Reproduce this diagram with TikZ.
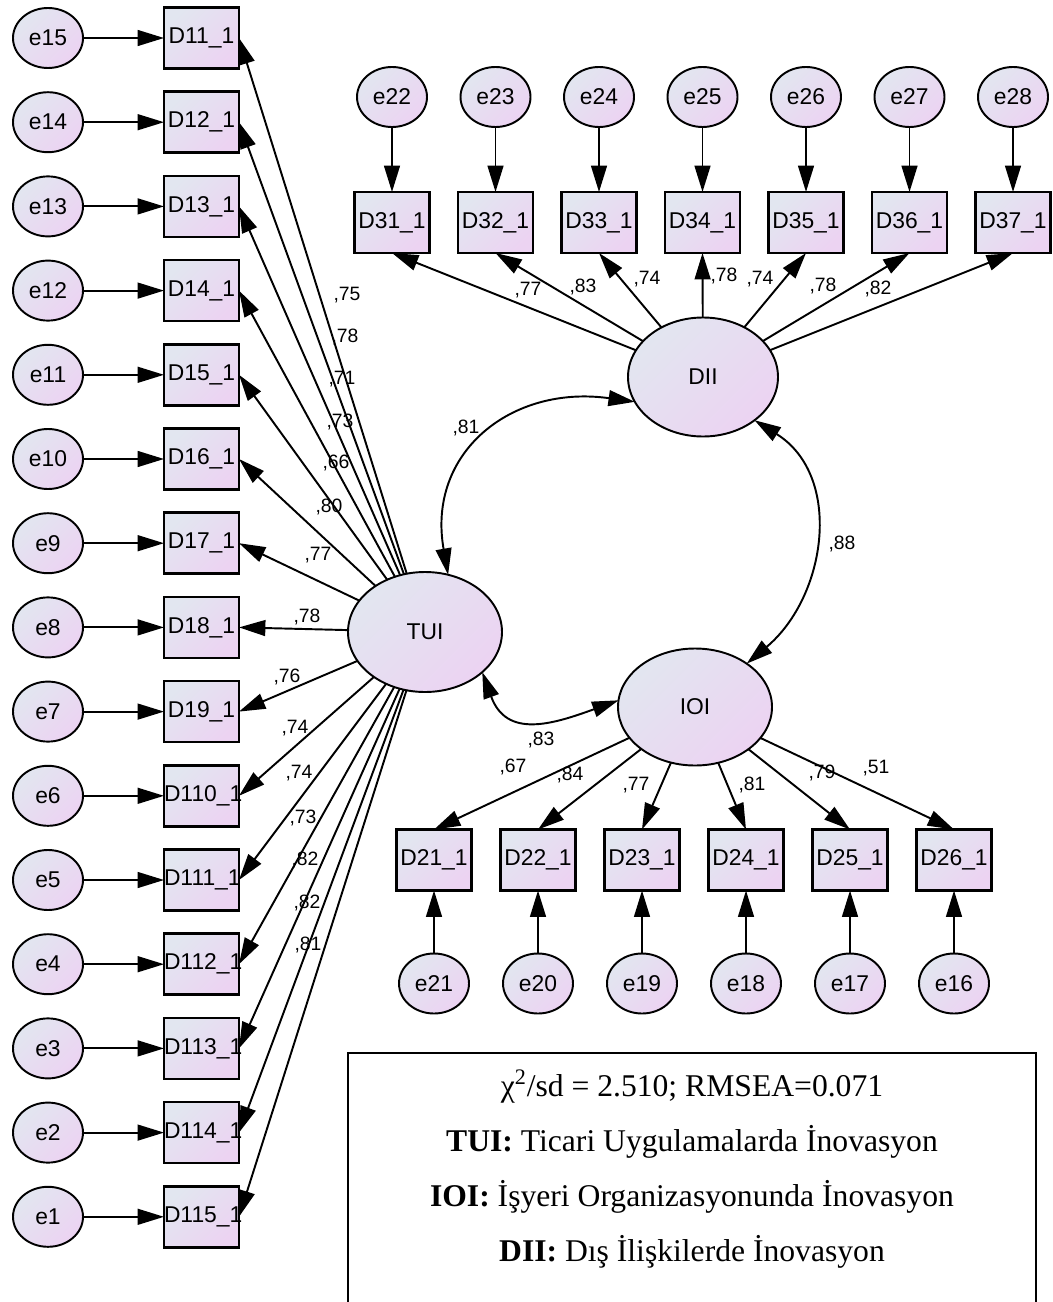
\documentclass[tikz,border=0pt]{standalone}
\usepackage{fontspec}
\setmainfont{Liberation Serif}
\newfontfamily\amosfont{Liberation Sans}
\usepackage{xcolor}
\usepackage{tikz}
\usetikzlibrary{shapes,arrows.meta,positioning}

\definecolor{fillA}{RGB}{226,230,240}
\definecolor{fillB}{RGB}{236,211,242}

\begin{document}
\begin{tikzpicture}[
    shadefill/.style={top color=fillA, bottom color=fillB, shading angle=45},
    err/.style={ellipse, draw, line width=1.1pt, shadefill, minimum width=1.4cm, minimum height=1.2cm, inner sep=0pt, outer sep=0pt, font=\amosfont\fontsize{13}{15}\selectfont},
    obs/.style={rectangle, draw, line width=1.5pt, shadefill, minimum height=1.22cm, text width=1.5cm, align=center, inner sep=0pt, outer sep=0pt, font=\amosfont\fontsize{13}{15}\selectfont},
    lat/.style={ellipse, draw, line width=1.1pt, shadefill, inner sep=0pt, outer sep=0pt, font=\amosfont\fontsize{13}{15}\selectfont},
    loading/.style={-{Triangle[length=15pt,width=9pt]}, line width=1.1pt},
    cov/.style={{Triangle[length=15pt,width=9pt]}-{Triangle[length=15pt,width=9pt]}, line width=1.1pt},
    coef/.style={font=\amosfont\fontsize{11}{13}\selectfont, inner sep=0pt},
    legendline/.style={font=\fontsize{18}{22}\selectfont, anchor=base, inner sep=0pt}
]
    \useasboundingbox (0,0) rectangle (21.04,-26.04);

    % Latent factors
    \node[lat, minimum width=3.08cm, minimum height=2.4cm] (TUI) at (8.5,-12.64) {TUI};
    \node[lat, minimum width=3.0cm, minimum height=2.38cm] (DII) at (14.06,-7.54) {DII};
    \node[lat, minimum width=3.08cm, minimum height=2.34cm] (IOI) at (13.9,-14.14) {IOI};

    % TUI errors
    \node[err] (e15) at (0.96,-0.76) {e15};
    \node[err, below=0.484cm of e15] (e14) {e14};
    \node[err, below=0.484cm of e14] (e13) {e13};
    \node[err, below=0.484cm of e13] (e12) {e12};
    \node[err, below=0.484cm of e12] (e11) {e11};
    \node[err, below=0.484cm of e11] (e10) {e10};
    \node[err, below=0.484cm of e10] (e9) {e9};
    \node[err, below=0.484cm of e9] (e8) {e8};
    \node[err, below=0.484cm of e8] (e7) {e7};
    \node[err, below=0.484cm of e7] (e6) {e6};
    \node[err, below=0.484cm of e6] (e5) {e5};
    \node[err, below=0.484cm of e5] (e4) {e4};
    \node[err, below=0.484cm of e4] (e3) {e3};
    \node[err, below=0.484cm of e3] (e2) {e2};
    \node[err, below=0.484cm of e2] (e1) {e1};

    % TUI indicators
    \node[obs, right=1.62cm of e15] (d11) {D11\_1};
    \node[obs, right=1.62cm of e14] (d12) {D12\_1};
    \node[obs, right=1.62cm of e13] (d13) {D13\_1};
    \node[obs, right=1.62cm of e12] (d14) {D14\_1};
    \node[obs, right=1.62cm of e11] (d15) {D15\_1};
    \node[obs, right=1.62cm of e10] (d16) {D16\_1};
    \node[obs, right=1.62cm of e9] (d17) {D17\_1};
    \node[obs, right=1.62cm of e8] (d18) {D18\_1};
    \node[obs, right=1.62cm of e7] (d19) {D19\_1};
    \node[obs, right=1.62cm of e6] (d110) {D110\_1};
    \node[obs, right=1.62cm of e5] (d111) {D111\_1};
    \node[obs, right=1.62cm of e4] (d112) {D112\_1};
    \node[obs, right=1.62cm of e3] (d113) {D113\_1};
    \node[obs, right=1.62cm of e2] (d114) {D114\_1};
    \node[obs, right=1.62cm of e1] (d115) {D115\_1};

    % DII errors
    \node[err] (e22) at (7.84,-1.94) {e22};
    \node[err, right=0.67cm of e22] (e23) {e23};
    \node[err, right=0.67cm of e23] (e24) {e24};
    \node[err, right=0.67cm of e24] (e25) {e25};
    \node[err, right=0.67cm of e25] (e26) {e26};
    \node[err, right=0.67cm of e26] (e27) {e27};
    \node[err, right=0.67cm of e27] (e28) {e28};

    % DII indicators
    \node[obs, below=1.3cm of e22] (d31) {D31\_1};
    \node[obs, below=1.3cm of e23] (d32) {D32\_1};
    \node[obs, below=1.3cm of e24] (d33) {D33\_1};
    \node[obs, below=1.3cm of e25] (d34) {D34\_1};
    \node[obs, below=1.3cm of e26] (d35) {D35\_1};
    \node[obs, below=1.3cm of e27] (d36) {D36\_1};
    \node[obs, below=1.3cm of e28] (d37) {D37\_1};

    % IOI indicators
    \node[obs] (d21) at (8.68,-17.2) {D21\_1};
    \node[obs, right=0.58cm of d21] (d22) {D22\_1};
    \node[obs, right=0.58cm of d22] (d23) {D23\_1};
    \node[obs, right=0.58cm of d23] (d24) {D24\_1};
    \node[obs, right=0.58cm of d24] (d25) {D25\_1};
    \node[obs, right=0.58cm of d25] (d26) {D26\_1};

    % IOI errors
    \node[err, below=1.26cm of d21] (e21) {e21};
    \node[err, below=1.26cm of d22] (e20) {e20};
    \node[err, below=1.26cm of d23] (e19) {e19};
    \node[err, below=1.26cm of d24] (e18) {e18};
    \node[err, below=1.26cm of d25] (e17) {e17};
    \node[err, below=1.26cm of d26] (e16) {e16};

    % error paths
    \draw[loading] (e15) -- (d11);
    \draw[loading] (e14) -- (d12);
    \draw[loading] (e13) -- (d13);
    \draw[loading] (e12) -- (d14);
    \draw[loading] (e11) -- (d15);
    \draw[loading] (e10) -- (d16);
    \draw[loading] (e9) -- (d17);
    \draw[loading] (e8) -- (d18);
    \draw[loading] (e7) -- (d19);
    \draw[loading] (e6) -- (d110);
    \draw[loading] (e5) -- (d111);
    \draw[loading] (e4) -- (d112);
    \draw[loading] (e3) -- (d113);
    \draw[loading] (e2) -- (d114);
    \draw[loading] (e1) -- (d115);
    \draw[loading] (e22) -- (d31);
    \draw[loading] (e23) -- (d32);
    \draw[loading] (e24) -- (d33);
    \draw[loading] (e25) -- (d34);
    \draw[loading] (e26) -- (d35);
    \draw[loading] (e27) -- (d36);
    \draw[loading] (e28) -- (d37);
    \draw[loading] (e21) -- (d21);
    \draw[loading] (e20) -- (d22);
    \draw[loading] (e19) -- (d23);
    \draw[loading] (e18) -- (d24);
    \draw[loading] (e17) -- (d25);
    \draw[loading] (e16) -- (d26);

    % TUI loadings
    \draw[loading] (TUI) -- (d11.east);
    \draw[loading] (TUI) -- (d12.east);
    \draw[loading] (TUI) -- (d13.east);
    \draw[loading] (TUI) -- (d14.east);
    \draw[loading] (TUI) -- (d15.east);
    \draw[loading] (TUI) -- (d16.east);
    \draw[loading] (TUI) -- (d17.east);
    \draw[loading] (TUI) -- (d18.east);
    \draw[loading] (TUI) -- (d19.east);
    \draw[loading] (TUI) -- (d110.east);
    \draw[loading] (TUI) -- (d111.east);
    \draw[loading] (TUI) -- (d112.east);
    \draw[loading] (TUI) -- (d113.east);
    \draw[loading] (TUI) -- (d114.east);
    \draw[loading] (TUI) -- (d115.east);

    % DII loadings
    \draw[loading] (DII) -- (d31.south);
    \draw[loading] (DII) -- (d32.south);
    \draw[loading] (DII) -- (d33.south);
    \draw[loading] (DII) -- (d34.south);
    \draw[loading] (DII) -- (d35.south);
    \draw[loading] (DII) -- (d36.south);
    \draw[loading] (DII) -- (d37.south);

    % IOI loadings
    \draw[loading] (IOI) -- (d21.north);
    \draw[loading] (IOI) -- (d22.north);
    \draw[loading] (IOI) -- (d23.north);
    \draw[loading] (IOI) -- (d24.north);
    \draw[loading] (IOI) -- (d25.north);
    \draw[loading] (IOI) -- (d26.north);

    % covariances
    \draw[cov] (TUI.68) to[out=100, in=172, looseness=1.25] (DII.200);
    \draw[cov] (DII.-40) to[out=-32, in=40, looseness=1.1] (IOI.40);
    \draw[cov] (TUI.-35) to[out=-70, in=200, looseness=1.3] (IOI.175);

    % coefficients
    \node[coef] (c11) at (6.94,-5.90) {,75};
    \node[coef] (c12) at (6.90,-6.74) {,78};
    \node[coef] (c13) at (6.84,-7.58) {,71};
    \node[coef] (c14) at (6.80,-8.44) {,73};
    \node[coef] (c15) at (6.72,-9.26) {,66};
    \node[coef] (c16) at (6.58,-10.14) {,80};
    \node[coef] (c17) at (6.36,-11.10) {,77};
    \node[coef] (c18) at (6.14,-12.34) {,78};
    \node[coef] (c19) at (5.74,-13.54) {,76};
    \node[coef] (c110) at (5.90,-14.56) {,74};
    \node[coef] (c111) at (5.98,-15.46) {,74};
    \node[coef] (c112) at (6.06,-16.36) {,73};
    \node[coef] (c113) at (6.10,-17.20) {,82};
    \node[coef] (c114) at (6.14,-18.06) {,82};
    \node[coef] (c115) at (6.16,-18.90) {,81};
    \node[coef] (c31) at (10.56,-5.80) {,77};
    \node[coef] (c32) at (11.66,-5.74) {,83};
    \node[coef] (c33) at (12.94,-5.58) {,74};
    \node[coef] (c34) at (14.48,-5.52) {,78};
    \node[coef] (c35) at (15.20,-5.58) {,74};
    \node[coef] (c36) at (16.46,-5.72) {,78};
    \node[coef] (c37) at (17.56,-5.78) {,82};
    \node[coef] (c21) at (10.26,-15.34) {,67};
    \node[coef] (c22) at (11.40,-15.50) {,84};
    \node[coef] (c23) at (12.72,-15.70) {,77};
    \node[coef] (c24) at (15.04,-15.70) {,81};
    \node[coef] (c25) at (16.44,-15.46) {,79};
    \node[coef] (c26) at (17.52,-15.36) {,51};
    \node[coef] (cTD) at (9.32,-8.56) {,81};
    \node[coef] (cDI) at (16.84,-10.88) {,88};
    \node[coef] (cTI) at (10.82,-14.80) {,83};

    % Legend
    \draw[line width=0.7pt] (6.96,-26.3) -- (6.96,-21.06) -- (20.72,-21.06) -- (20.72,-26.3);
    \node[legendline] (fit) at (13.84,-21.92) {χ\textsuperscript{2}/sd = 2.510; RMSEA=0.071};
    \node[legendline] (ltui) at (13.84,-23.02) {\textbf{TUI:} Ticari Uygulamalarda İnovasyon};
    \node[legendline] (lioi) at (13.84,-24.12) {\textbf{IOI:} İşyeri Organizasyonunda İnovasyon};
    \node[legendline] (ldii) at (13.84,-25.22) {\textbf{DII:} Dış İlişkilerde İnovasyon};
\end{tikzpicture}
\end{document}
